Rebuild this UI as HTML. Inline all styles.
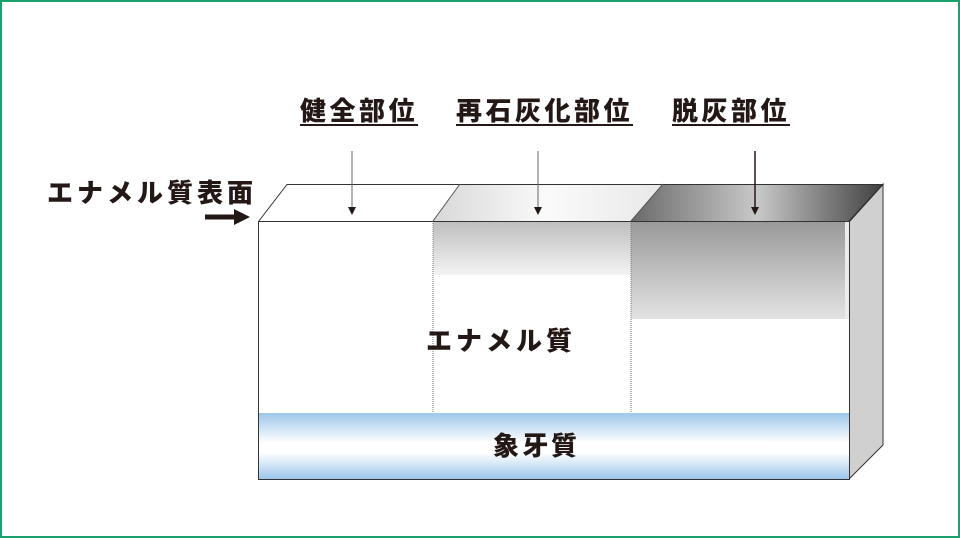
<!DOCTYPE html>
<html><head><meta charset="utf-8"><style>
html,body{margin:0;padding:0;background:#fff}
.wrap{position:relative;width:960px;height:538px;box-sizing:border-box;border:2px solid #1aa06e;overflow:hidden}
.t{position:absolute;font-family:"Liberation Sans","Noto Sans CJK JP",sans-serif;font-weight:900;color:#231815;white-space:nowrap;line-height:1}
.u{text-decoration:underline;text-decoration-thickness:2px;text-underline-offset:4px}
</style></head><body><div class="wrap">
<svg width="960" height="538" style="position:absolute;left:-2px;top:-2px">
<defs>
<linearGradient id="g1" x1="0" y1="0" x2="1" y2="0"><stop offset="0" stop-color="#d8d8d8"/><stop offset="0.5" stop-color="#fafafa"/><stop offset="1" stop-color="#e8e8e8"/></linearGradient>
<linearGradient id="g2" x1="0" y1="0" x2="1" y2="0"><stop offset="0" stop-color="#6a6a6a"/><stop offset="0.5" stop-color="#c8c8c8"/><stop offset="1" stop-color="#404040"/></linearGradient>
<linearGradient id="f1" x1="0" y1="0" x2="0" y2="1"><stop offset="0" stop-color="#bdbdbd"/><stop offset="1" stop-color="#f4f4f4"/></linearGradient>
<linearGradient id="f2" x1="0" y1="0" x2="0" y2="1"><stop offset="0" stop-color="#9a9999"/><stop offset="1" stop-color="#e3e3e3"/></linearGradient>
<linearGradient id="d" x1="0" y1="0" x2="0" y2="1"><stop offset="0" stop-color="#9cc6ea"/><stop offset="0.45" stop-color="#ffffff"/><stop offset="0.6" stop-color="#ffffff"/><stop offset="1" stop-color="#9cc6ea"/></linearGradient>
</defs>
<polygon points="258,221 287,184 460,184 433,221" fill="#fff"/>
<polygon points="433,221 460,184 663,184 631,221" fill="url(#g1)"/>
<polygon points="631,221 663,184 883,184 849,221" fill="url(#g2)"/>
<polygon points="849,221 883,184 883,445 849,479" fill="#d0d0d0" stroke="#333" stroke-width="1"/>
<rect x="258" y="221" width="591" height="258" fill="#fff"/>
<rect x="433" y="221" width="198" height="54" fill="url(#f1)"/>
<rect x="631" y="221" width="218" height="98" fill="url(#f2)"/>
<rect x="845" y="221" width="4" height="98" fill="#ececec"/>
<rect x="258" y="413" width="591" height="66" fill="url(#d)"/>
<line x1="433" y1="221" x2="433" y2="413" stroke="#777" stroke-dasharray="1,1"/>
<line x1="631" y1="221" x2="631" y2="413" stroke="#777" stroke-dasharray="1,1"/>
<rect x="258.5" y="221.5" width="591" height="258" fill="none" stroke="#333" stroke-width="1"/>
<polyline points="258.5,221.5 287,184.5 883,184.5 849.5,221.5" fill="none" stroke="#333" stroke-width="1"/>
<line x1="433" y1="221" x2="460" y2="184" stroke="#555"/>
<line x1="631" y1="221" x2="663" y2="184" stroke="#555"/>
<line x1="352" y1="151" x2="352" y2="208" stroke="#666" stroke-width="1"/>
<polygon points="348,207 356,207 352,215" fill="#231815"/>
<line x1="538" y1="151" x2="538" y2="208" stroke="#666" stroke-width="1"/>
<polygon points="534,207 542,207 538,215" fill="#231815"/>
<line x1="755" y1="151" x2="755" y2="208" stroke="#231815" stroke-width="1.5"/>
<polygon points="751,207 759,207 755,215" fill="#231815"/>
<line x1="205" y1="217" x2="236" y2="217" stroke="#231815" stroke-width="5"/>
<polygon points="234,209 250,217 234,225" fill="#231815"/>
</svg>
<div class="t u" style="left:298px;top:96px;font-size:26px;letter-spacing:3.5px">健全部位</div>
<div class="t u" style="left:454px;top:96px;font-size:26px;letter-spacing:3.5px">再石灰化部位</div>
<div class="t u" style="left:670px;top:96px;font-size:26px;letter-spacing:3.5px">脱灰部位</div>
<div class="t" style="left:45px;top:178px;font-size:26px;letter-spacing:4px">エナメル質表面</div>
<div class="t" style="left:424px;top:326px;font-size:26px;letter-spacing:4px">エナメル質</div>
<div class="t" style="left:491px;top:431px;font-size:26px;letter-spacing:3px">象牙質</div>
</div></body></html>
